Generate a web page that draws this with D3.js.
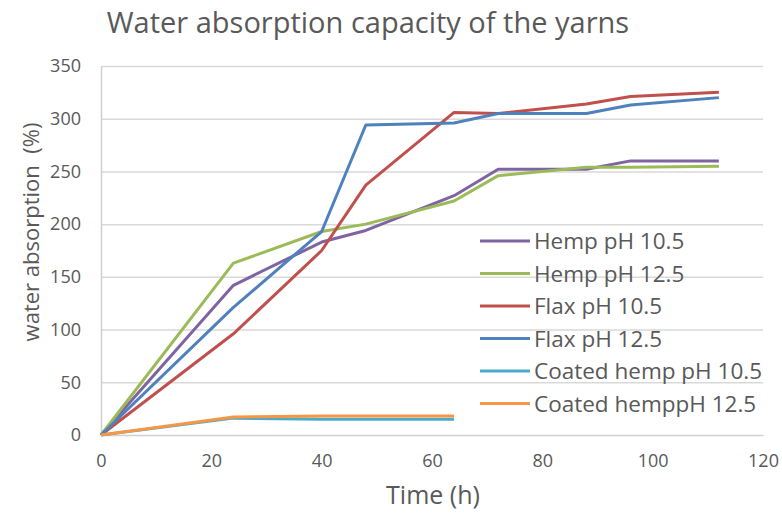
<!DOCTYPE html>
<html>
<head>
<meta charset="utf-8">
<script src="https://cdn.jsdelivr.net/npm/d3@7"></script>
<style>
  body { margin: 0; background: #fff; }
  text { font-family: "Open Sans", sans-serif; fill: #595959; }
</style>
</head>
<body>
<script>
// time points (h)
var times = [0, 24, 40, 48, 64, 72, 88, 96, 112];
var coatedTimes = [0, 24, 40, 48, 64];

var hemp105 = [0, 142, 183, 194, 227, 252, 252, 260, 260];
var hemp125 = [0, 163, 193, 200, 222, 246, 254, 254, 255];
var flax105 = [0, 96, 175, 237, 306, 305, 314, 321, 325];
var flax125 = [0, 121, 193, 294, 296, 305, 305, 313, 320];
var coated105 = [0, 16, 15, 15, 15];
var coated125 = [0, 17, 18, 18, 18];

var seriesNames = ["Hemp pH 10.5", "Hemp pH 12.5", "Flax pH 10.5", "Flax pH 12.5",
                   "Coated hemp pH 10.5", "Coated hemppH 12.5"];
var colors = ["#8064A2", "#9BBB59", "#C0504D", "#4F81BD", "#4BACC6", "#F79646"];

var xTicks = [0, 20, 40, 60, 80, 100, 120];
var yTicks = [0, 50, 100, 150, 200, 250, 300, 350];

var W = 782, H = 514,
    margin = {top: 66, right: 19, bottom: 79, left: 101},
    width = W - margin.left - margin.right,
    height = H - margin.top - margin.bottom;

var svg = d3.select("body").append("svg")
    .attr("width", W)
    .attr("height", H);

var g = svg.append("g").attr("transform", "translate(" + margin.left + "," + margin.top + ")");

var x = d3.scaleLinear().domain([0, 120]).range([0, width]),
    y = d3.scaleLinear().domain([0, 350]).range([height, 0]);

var series = [
  {name: seriesNames[0], t: times, v: hemp105},
  {name: seriesNames[1], t: times, v: hemp125},
  {name: seriesNames[2], t: times, v: flax105},
  {name: seriesNames[3], t: times, v: flax125},
  {name: seriesNames[4], t: coatedTimes, v: coated105},
  {name: seriesNames[5], t: coatedTimes, v: coated125}
].map(function(s, i) {
  return {name: s.name, color: colors[i],
          values: s.t.map(function(t, j) { return {t: t, v: s.v[j]}; })};
});

// gridlines
g.append("g")
    .attr("class", "grid")
    .call(d3.axisLeft(y).tickValues(yTicks.slice(1)).tickSize(-width).tickFormat(""))
    .call(function(a) {
      a.select(".domain").remove();
      a.selectAll("line").attr("stroke", "#d9d9d9").attr("stroke-width", 1.5);
    });

// y axis
g.append("g")
    .call(d3.axisLeft(y).tickValues(yTicks).tickSize(0).tickPadding(20))
    .call(function(a) {
      a.select(".domain").attr("stroke", "#d0d0d0").attr("stroke-width", 1.5);
      a.selectAll("text").style("font-size", "18px").style("fill", "#595959");
    });

// x axis
g.append("g")
    .attr("transform", "translate(0," + height + ")")
    .call(d3.axisBottom(x).tickValues(xTicks).tickSize(0).tickPadding(19))
    .call(function(a) {
      a.select(".domain").attr("stroke", "#d0d0d0").attr("stroke-width", 1.5);
      a.selectAll("text").style("font-size", "18px").style("fill", "#595959");
    });

var line = d3.line()
    .x(function(d) { return x(d.t); })
    .y(function(d) { return y(d.v); });

g.selectAll(".series")
  .data(series)
  .enter().append("path")
    .attr("class", "series")
    .attr("fill", "none")
    .attr("stroke", function(d) { return d.color; })
    .attr("stroke-width", 3)
    .attr("stroke-linejoin", "round")
    .attr("d", function(d) { return line(d.values); });

// legend
var legend = svg.append("g").attr("transform", "translate(480,241)");
var item = legend.selectAll(".item")
  .data(series)
  .enter().append("g")
    .attr("transform", function(d, i) { return "translate(0," + (i * 32.5) + ")"; });
item.append("line")
    .attr("x1", 0).attr("x2", 50)
    .attr("stroke", function(d) { return d.color; })
    .attr("stroke-width", 3);
item.append("text")
    .attr("x", 54)
    .attr("dy", "0.36em")
    .style("font-size", "22.5px")
    .text(function(d) { return d.name; });

// titles
svg.append("text")
    .attr("x", 368).attr("y", 33)
    .attr("text-anchor", "middle")
    .style("font-size", "29px")
    .text("Water absorption capacity of the yarns");

svg.append("text")
    .attr("x", 433).attr("y", 504)
    .attr("text-anchor", "middle")
    .style("font-size", "25px")
    .text("Time (h)");

svg.append("text")
    .attr("transform", "translate(39,232) rotate(-90)")
    .attr("text-anchor", "middle")
    .style("font-size", "22px")
    .style("white-space", "pre")
    .text("water absorption  (%)");
</script>
</body>
</html>
